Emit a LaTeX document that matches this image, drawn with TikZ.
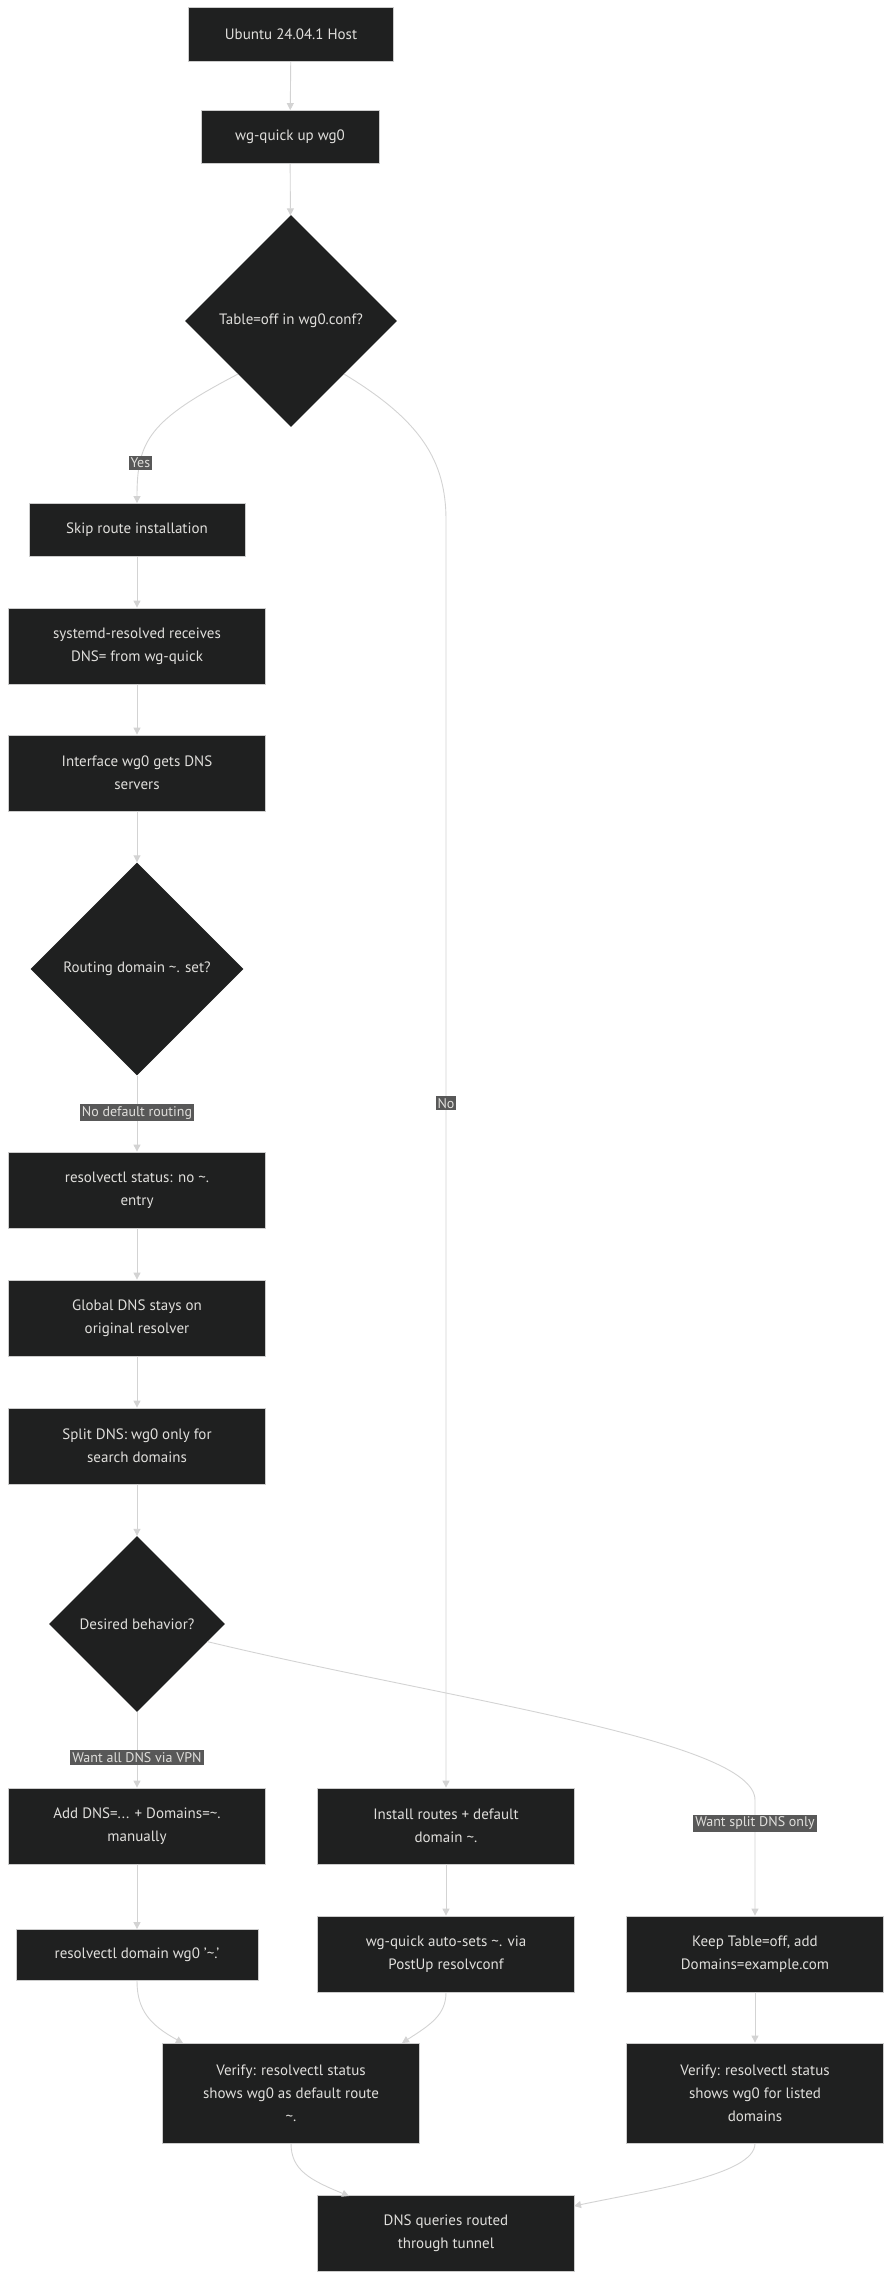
\documentclass[tikz,border=0pt]{standalone}
\usepackage{fontspec}
\setmainfont{PT Sans}
\usetikzlibrary{shapes.geometric,arrows.meta,calc}
\definecolor{nodefill}{HTML}{1F2020}
\definecolor{nodeline}{HTML}{CCCCCC}
\definecolor{txt}{HTML}{E0DFDC}
\definecolor{edge}{HTML}{D3D3D3}
\definecolor{lblfill}{HTML}{585858}
\begin{document}
\begin{tikzpicture}[x=1pt,y=-1pt,
  box/.style={draw=nodeline,line width=0.8pt,fill=nodefill,text=txt,font=\fontsize{15}{23}\selectfont,align=center,minimum width=257pt,minimum height=76pt,inner sep=4pt},
  sbox/.style={box,minimum height=53pt},
  dia/.style={diamond,fill=nodefill,text=txt,font=\fontsize{15}{23}\selectfont,minimum width=#1,minimum height=#1,inner sep=0pt,aspect=1},
  lbl/.style={fill=lblfill,text=txt,font=\fontsize{14}{16}\selectfont,inner sep=2pt},
  ar/.style={draw=edge,line width=0.9pt,-{Triangle[length=7pt,width=7pt]}}]
\useasboundingbox (0,0) rectangle (896,2288);
\node[sbox,minimum width=205pt,minimum height=54pt] (host) at (291,34.5) {Ubuntu 24.04.1 Host};
\node[sbox,minimum width=178pt] (up) at (290,137) {wg-quick up wg0};
\node[dia=212pt] (tbl) at (291,321) {Table=off in wg0.conf?};
\node[sbox,minimum width=216pt] (skip) at (137,530) {Skip route installation};
\node[box] (sysd) at (137,646) {systemd-resolved receives\\DNS= from wg-quick};
\node[box] (iface) at (137,773) {Interface wg0 gets DNS\\servers};
\node[dia=213pt] (rd) at (137,969) {Routing domain \textasciitilde. set?};
\node[box] (rs) at (137,1190) {resolvectl status: no \textasciitilde.\\entry};
\node[box] (glob) at (137,1318) {Global DNS stays on\\original resolver};
\node[box] (split) at (137,1446) {Split DNS: wg0 only for\\search domains};
\node[dia=176pt] (des) at (137,1624) {Desired behavior?};
\node[box] (add) at (137,1826) {Add DNS=... + Domains=\textasciitilde.\\manually};
\node[sbox,minimum width=242pt,minimum height=51pt] (dom) at (137,1955) {resolvectl domain wg0 '\textasciitilde.'};
\node[box,minimum height=100pt] (ver1) at (291,2093) {Verify: resolvectl status\\shows wg0 as default route\\\textasciitilde.};
\node[box] (inst) at (446,1826) {Install routes + default\\domain \textasciitilde.};
\node[box] (auto) at (446,1954) {wg-quick auto-sets \textasciitilde. via\\PostUp resolvconf};
\node[box] (keep) at (755,1954) {Keep Table=off, add\\Domains=example.com};
\node[box,minimum height=100pt] (ver2) at (755,2093) {Verify: resolvectl status\\shows wg0 for listed\\domains};
\node[box] (dns) at (446,2233) {DNS queries routed\\through tunnel};

\draw[ar] (host) -- (up);
\draw[ar] (up) -- (tbl);
\draw[ar] ($(tbl.west)!0.5!(tbl.south)$) .. controls (150,420) and (137,440) .. node[lbl,pos=0.75] {Yes} (skip.north);
\draw[ar] ($(tbl.east)!0.5!(tbl.south)$) .. controls (420,420) and (446,460) .. (446,520) -- node[lbl,pos=0.46] {No} (inst.north);
\draw[ar] (skip) -- (sysd);
\draw[ar] (sysd) -- (iface);
\draw[ar] (iface) -- (rd);
\draw[ar] (rd) -- node[lbl,pos=0.49] {No default routing} (rs);
\draw[ar] (rs) -- (glob);
\draw[ar] (glob) -- (split);
\draw[ar] (split) -- (des);
\draw[ar] (des) -- node[lbl,pos=0.6] {Want all DNS via VPN} (add);
\draw[ar] ($(des.east)!0.2!(des.south)$) .. controls (450,1700) and (755,1740) .. (755,1800) -- node[lbl,pos=0.2] {Want split DNS only} (keep.north);
\draw[ar] (add) -- (dom);
\draw[ar] (inst) -- (auto);
\draw[ar] (keep) -- (ver2);
\draw[ar] (dom.south) .. controls (137,2010) and (150,2025) .. (183,2043);
\draw[ar] (auto.south) .. controls (446,2015) and (430,2025) .. (402,2043);
\draw[ar] (ver1.south) .. controls (291,2170) and (310,2180) .. (349,2196);
\draw[ar] (ver2.south) .. controls (755,2175) and (650,2190) .. (574,2206);
\end{tikzpicture}
\end{document}
